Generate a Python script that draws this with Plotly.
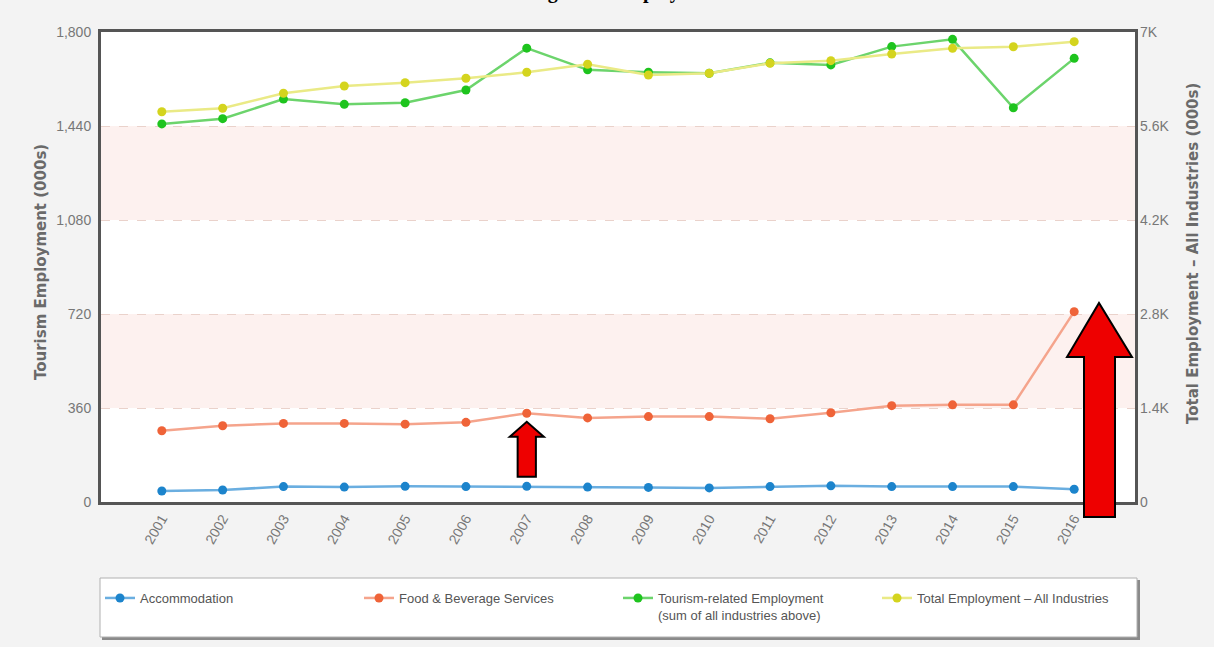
import plotly.graph_objects as go

# Employment series (thousands)
years = list(range(2001, 2017))
accommodation = [42, 46, 59, 57, 60, 59, 60, 57, 56, 54, 59, 62, 59, 59, 59, 49]
food_beverage = [273, 292, 301, 301, 298, 305, 340, 322, 327, 327, 319, 342, 369, 372, 372, 729]
tourism_related = [1448, 1468, 1543, 1523, 1529, 1578, 1738, 1655, 1646, 1642,
                   1682, 1674, 1744, 1772, 1510, 1699]
total_employment = [5813, 5864, 6087, 6196, 6245, 6311, 6400, 6519, 6360, 6385,
                    6534, 6573, 6673, 6757, 6781, 6856]

left_ticks = [0, 360, 720, 1080, 1440, 1800]
right_ticks = [0, 1400, 2800, 4200, 5600, 7000]
right_tick_text = ["0", "1.4K", "2.8K", "4.2K", "5.6K", "7K"]

series_names = [
    "Accommodation",
    "Food & Beverage Services",
    "Tourism-related Employment<br>(sum of all industries above)",
    "Total Employment \u2013 All Industries",
]

# page geometry
W, H = 1214, 647
L, R, T, B = 101, 1135, 32, 502


def px(x):
    return (x - L) / (R - L)


def py(y):
    return (B - y) / (B - T)


TICK_FONT = "Liberation Sans Narrow, Liberation Sans, Arial, sans-serif"
GRAY = "#6a6a6a"

fig = go.Figure()


def add_series(values, name, line_color, marker_color, axis="y"):
    fig.add_trace(go.Scatter(
        x=years, y=values, name=name, yaxis=axis,
        mode="lines+markers",
        line=dict(color=line_color, width=2.5),
        marker=dict(color=marker_color, size=9, symbol="circle"),
    ))


add_series(accommodation, series_names[0], "#6aaee0", "#1c84cc")
add_series(food_beverage, series_names[1], "#f5a48c", "#ef6338")
add_series(tourism_related, series_names[2], "#6cd46c", "#1ec41e")
add_series(total_employment, series_names[3], "#eaea86", "#d4d41e", axis="y2")

shapes = []

# alternating shaded bands
for lo, hi in [(left_ticks[1], left_ticks[2]), (left_ticks[3], left_ticks[4])]:
    shapes.append(dict(type="rect", xref="paper", yref="y", x0=0, x1=1, y0=lo, y1=hi,
                       fillcolor="#fdf1ef", line=dict(width=0), layer="below"))

# small arrow under the 2007 food & beverage point
xa = 2007
tip = food_beverage[years.index(xa)] - 33
hw, sw = 0.28, 0.15
base, bottom = tip - 57, tip - 210
small_path = (f"M {xa - sw},{bottom} L {xa - sw},{base} L {xa - hw},{base} L {xa},{tip} "
              f"L {xa + hw},{base} L {xa + sw},{base} L {xa + sw},{bottom} Z")
shapes.append(dict(type="path", xref="x", yref="y", path=small_path,
                   fillcolor="#ee0000", line=dict(color="#000000", width=2), layer="above"))

# large arrow at the right edge
big = [(1084, 517), (1084, 357), (1067, 357), (1099, 303), (1132, 357), (1115, 357), (1115, 517)]
big_path = "M " + " L ".join(f"{px(x):.5f},{py(y):.5f}" for x, y in big) + " Z"
shapes.append(dict(type="path", xref="paper", yref="paper", path=big_path,
                   fillcolor="#ee0000", line=dict(color="#000000", width=2), layer="above"))

# legend frame with a soft shadow
shapes.append(dict(type="rect", xref="paper", yref="paper",
                   x0=px(102), x1=px(1140), y0=py(640), y1=py(580),
                   fillcolor="#8a8a8a", line=dict(width=0), layer="above"))
shapes.append(dict(type="rect", xref="paper", yref="paper",
                   x0=px(100), x1=px(1137), y0=py(637), y1=py(578),
                   fillcolor="#ffffff", line=dict(color="#b0b0b0", width=1), layer="above"))

annotations = [
    dict(text="<b>Figure 6: Employment</b>", xref="paper", yref="paper",
         x=px(528), y=py(-9), xanchor="left", yanchor="middle", showarrow=False,
         font=dict(family="Liberation Serif, Times New Roman, serif", size=20, color="#000000")),
    dict(text="<b>Tourism Employment (000s)</b>", xref="paper", yref="paper",
         x=px(41), y=py(262), xanchor="center", yanchor="middle", textangle=-90,
         showarrow=False, font=dict(family="DejaVu Sans, Verdana, sans-serif", size=15, color=GRAY)),
    dict(text="<b>Total Employment \u2013 All Industries (000s)</b>", xref="paper", yref="paper",
         x=px(1193), y=py(254), xanchor="center", yanchor="middle", textangle=-90,
         showarrow=False, font=dict(family="DejaVu Sans, Verdana, sans-serif", size=15, color=GRAY)),
]

fig.update_layout(
    width=W, height=H, autosize=False,
    margin=dict(l=L, r=W - R, t=T, b=H - B, pad=0, autoexpand=False),
    paper_bgcolor="#f3f3f3",
    plot_bgcolor="#ffffff",
    showlegend=True,
    legend=dict(
        orientation="h", x=px(100), y=py(583), xanchor="left", yanchor="top",
        entrywidth=214, entrywidthmode="pixels", itemwidth=30,
        bgcolor="rgba(0,0,0,0)", borderwidth=0, valign="top",
        font=dict(family=TICK_FONT, size=13, color="#555555"),
    ),
    xaxis=dict(
        range=[years[0] - 1, years[-1] + 1], tickvals=years, tickformat="d",
        tickangle=-60, tickfont=dict(family=TICK_FONT, size=14, color="#777777"),
        showgrid=False, zeroline=False, showline=True, mirror=True,
        linecolor="#555555", linewidth=3, ticks="", automargin=False,
    ),
    yaxis=dict(
        range=[0, 1800], tickvals=left_ticks, tickformat=",",
        tickfont=dict(family=TICK_FONT, size=14, color="#777777"),
        showgrid=True, gridcolor="#ead2cb", griddash="dash", gridwidth=1,
        zeroline=False, showline=True, mirror=True, linecolor="#555555", linewidth=3,
        ticks="", ticklabelstandoff=4, automargin=False,
    ),
    yaxis2=dict(
        range=[0, 7000], tickvals=right_ticks, ticktext=right_tick_text,
        overlaying="y", side="right",
        tickfont=dict(family=TICK_FONT, size=14, color="#777777"),
        showgrid=False, zeroline=False, showline=False, ticks="", ticklabelstandoff=4,
        automargin=False,
    ),
    shapes=shapes,
    annotations=annotations,
)

fig.write_html("out.html")
